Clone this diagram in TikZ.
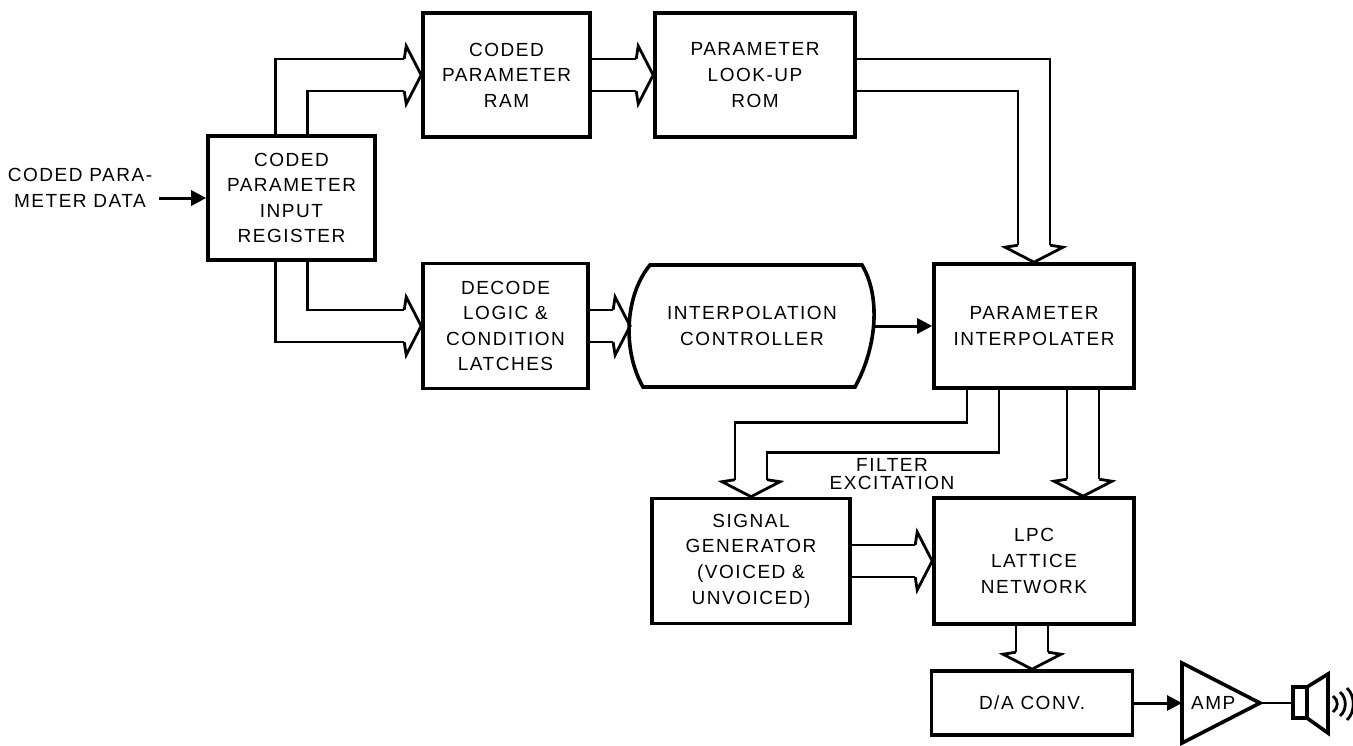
\documentclass[tikz,border=0pt]{standalone}
\usepackage{fontspec}
\setmainfont{Liberation Sans}[LetterSpace=8]
\usetikzlibrary{arrows.meta,calc}

\tikzset{
  box/.style={draw,line width=1.8pt,align=center,inner sep=0pt,font=\fontsize{9.5pt}{12.8pt}\selectfont},
  lbl/.style={align=center,font=\fontsize{9.5pt}{12.8pt}\selectfont},
  bus/.style={line width=1.4pt},
  sig/.style={line width=1.5pt,-{Triangle[length=7.5pt,width=7.5pt]}},
  bushead/.pic={\draw[bus] (-17,-16) -- (-15,-29) -- (0,0) -- (-15,29) -- (-17,16);}
}

\begin{document}
\begin{tikzpicture}[x=0.5pt,y=-0.5pt]
    \useasboundingbox (0,0) rectangle (1353,745);
    % blocks
    \node[box,minimum width=83.5pt,minimum height=62pt] (reg) at (291.5,198) {CODED\\PARAMETER\\INPUT\\REGISTER};
    \node[box,minimum width=83.5pt,minimum height=62pt] (ram) at (506.5,75) {CODED\\PARAMETER\\RAM};
    \node[box,minimum width=100pt,minimum height=62pt] (rom) at (755,75) {PARAMETER\\LOOK-UP\\ROM};
    \node[box,minimum width=82.5pt,minimum height=62.5pt] (dec) at (505.5,326) {DECODE\\LOGIC \&\\CONDITION\\LATCHES};
    \node[lbl,minimum width=121.5pt,minimum height=61pt] (ctrl) at (752,326) {INTERPOLATION\\CONTROLLER};
    \draw[line width=1.8pt] (650,265) -- (862,265) .. controls (880,295) and (878,345) .. (855,387)
        -- (643,387) .. controls (622,350) and (625,295) .. (650,265) -- cycle;
    \node[box,minimum width=100pt,minimum height=62pt] (interp) at (1034,326) {PARAMETER\\INTERPOLATER};
    \node[box,minimum width=99pt,minimum height=62.5pt] (sig) at (751,561) {SIGNAL\\GENERATOR\\(VOICED \&\\UNVOICED)};
    \node[box,minimum width=100pt,minimum height=63pt] (lpc) at (1034,561) {LPC\\LATTICE\\NETWORK};
    \node[box,minimum width=100.5pt,minimum height=32pt] (da) at (1032,703) {D/A CONV.};
    \node[lbl] (in) at (80,188) {CODED PARA-\\METER DATA};
    \node[lbl] (flt) at (892,474) {FILTER\\[-3.5pt]EXCITATION};

    % single lines
    \draw[sig] (in.east |- reg.west) -- (reg.west);
    \draw[sig] (ctrl.east) -- (ctrl.east -| interp.west);

    % buses
    \draw[bus] ($(reg.north)+(-16,0)$) |- ($(ram.west)+(-17,-16)$);
    \draw[bus] ($(reg.north)+(16,0)$) |- ($(ram.west)+(-17,16)$);
    \pic at (ram.west) {bushead};
    \draw[bus] ($(ram.east)+(0,-16)$) -- ($(rom.west)+(-17,-16)$);
    \draw[bus] ($(ram.east)+(0,16)$) -- ($(rom.west)+(-17,16)$);
    \pic at (rom.west) {bushead};
    \draw[bus] ($(rom.east)+(0,-16)$) -| ($(interp.north)+(16,-17)$);
    \draw[bus] ($(rom.east)+(0,16)$) -| ($(interp.north)+(-16,-17)$);
    \pic[rotate=-90] at (interp.north) {bushead};
    \draw[bus] ($(reg.south)+(-16,0)$) |- ($(dec.west)+(-17,16)$);
    \draw[bus] ($(reg.south)+(16,0)$) |- ($(dec.west)+(-17,-16)$);
    \pic at (dec.west) {bushead};
    \draw[bus] ($(dec.east)+(0,-16)$) -- ($(ctrl.west)+(-17,-16)$);
    \draw[bus] ($(dec.east)+(0,16)$) -- ($(ctrl.west)+(-17,16)$);
    \pic at (ctrl.west) {bushead};
    \draw[bus] ($(interp.south)+(-67,0)$) -- ++(0,33) -| ($(sig.north)+(-16,-17)$);
    \draw[bus] ($(interp.south)+(-35,0)$) -- ++(0,63) -| ($(sig.north)+(16,-17)$);
    \pic[rotate=-90] at (sig.north) {bushead};
    \draw[bus] ($(interp.south)+(33,0)$) -- ($(lpc.north)+(33,-17)$);
    \draw[bus] ($(interp.south)+(65,0)$) -- ($(lpc.north)+(65,-17)$);
    \pic[rotate=-90] at ($(lpc.north)+(49,0)$) {bushead};
    \draw[bus] ($(sig.east)+(0,-16)$) -- ($(lpc.west)+(-17,-16)$);
    \draw[bus] ($(sig.east)+(0,16)$) -- ($(lpc.west)+(-17,16)$);
    \pic at (lpc.west) {bushead};
    \draw[bus] ($(lpc.south -| da.north)+(-16,0)$) -- ($(da.north)+(-16,-17)$);
    \draw[bus] ($(lpc.south -| da.north)+(16,0)$) -- ($(da.north)+(16,-17)$);
    \pic[rotate=-90] at (da.north) {bushead};

    % amplifier and speaker
    \coordinate (ampin) at (1182,703);
    \coordinate (ampout) at (1260,703);
    \coordinate (spk) at (1293,703);
    \draw[line width=1.8pt] ($(ampin)+(0,-40)$) -- (ampout) -- ($(ampin)+(0,40)$) -- cycle;
    \node[lbl,anchor=west] (amp) at (1184,703) {AMP};
    \draw[sig] (da.east) -- (ampin);
    \draw[bus] (ampout) -- (spk);
    \draw[line width=1.8pt] (1293,687) rectangle (1307,718);
    \draw[line width=1.8pt] (1307,687) -- (1328,674) -- (1328,733) -- (1307,718);
    \foreach \d/\h in {0/8,7/12,14/16}
        \draw[line width=1.4pt] ({1333+\d},{704-\h}) .. controls ({1336+\d+\h/3},{704-\h/2}) and ({1336+\d+\h/3},{704+\h/2}) .. ({1333+\d},{704+\h});
\end{tikzpicture}
\end{document}
